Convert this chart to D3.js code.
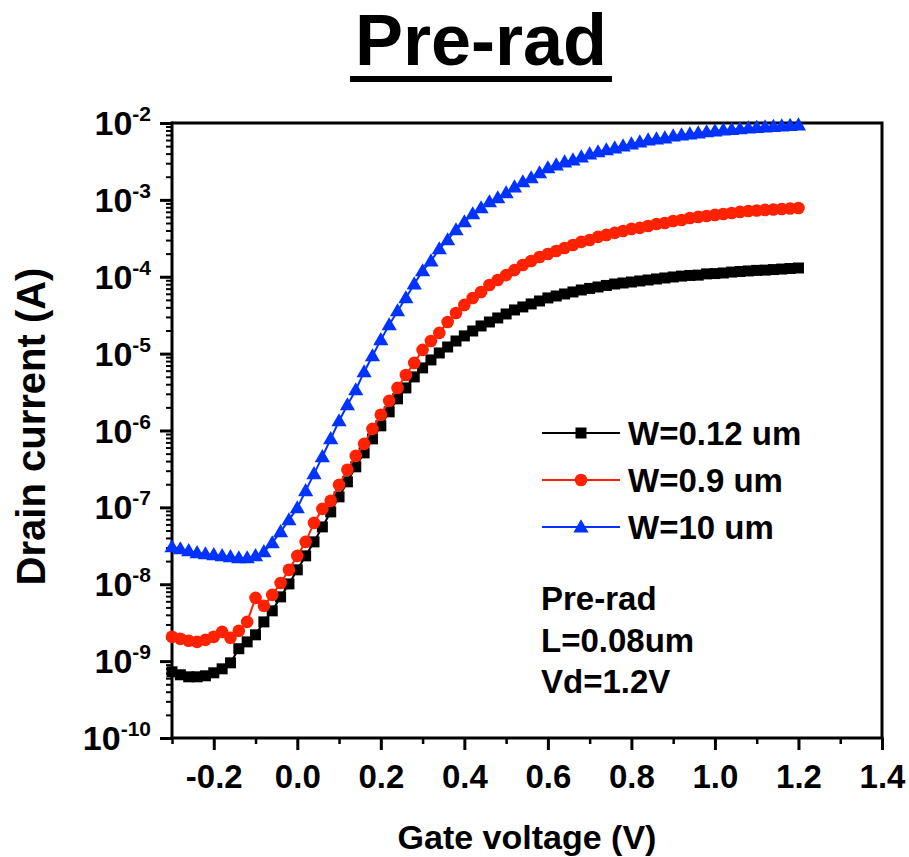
<!DOCTYPE html>
<html>
<head>
<meta charset="utf-8">
<script src="https://cdn.jsdelivr.net/npm/d3@7"></script>
<style>
  html, body { margin: 0; padding: 0; background: #fff; }
  svg { display: block; }
  text { font-family: "Liberation Sans", Arial, "DejaVu Sans", sans-serif; font-weight: bold; fill: #000; }
</style>
</head>
<body>
<svg id="chart" width="909" height="857"></svg>
<script>
// Gate voltage sweep (V)
const gateVoltage = [-0.30,-0.28,-0.26,-0.24,-0.22,-0.20,-0.18,-0.16,-0.14,-0.12,-0.10,-0.08,-0.06,-0.04,-0.02,
  0.00,0.02,0.04,0.06,0.08,0.10,0.12,0.14,0.16,0.18,0.20,0.22,0.24,0.26,0.28,0.30,0.32,0.34,0.36,0.38,0.40,
  0.42,0.44,0.46,0.48,0.50,0.52,0.54,0.56,0.58,0.60,0.62,0.64,0.66,0.68,0.70,0.72,0.74,0.76,0.78,0.80,
  0.82,0.84,0.86,0.88,0.90,0.92,0.94,0.96,0.98,1.00,1.02,1.04,1.06,1.08,1.10,1.12,1.14,1.16,1.18,1.20];

// Drain current (A), W = 0.12 um
const idW012 = [7.26e-10,6.64e-10,6.25e-10,6.25e-10,6.44e-10,7.05e-10,7.94e-10,9.5e-10,1.45e-9,1.78e-9,2.20e-9,3.24e-9,4.51e-9,6.85e-9,1.01e-8,1.54e-8,
  2.34e-8,3.56e-8,5.57e-8,8.73e-8,1.37e-7,2.15e-7,3.37e-7,5.12e-7,7.78e-7,1.15e-6,1.75e-6,2.58e-6,3.58e-6,4.98e-6,6.52e-6,8.28e-6,1.02e-5,1.22e-5,1.46e-5,1.70e-5,1.97e-5,2.29e-5,2.58e-5,2.91e-5,3.28e-5,3.70e-5,4.05e-5,4.43e-5,4.84e-5,5.30e-5,
  5.62e-5,5.97e-5,6.34e-5,6.73e-5,7.05e-5,7.36e-5,7.71e-5,8.05e-5,8.30e-5,8.55e-5,8.81e-5,9.08e-5,9.36e-5,9.64e-5,9.93e-5,1.02e-4,1.04e-4,1.05e-4,1.09e-4,1.10e-4,1.12e-4,1.15e-4,1.17e-4,1.19e-4,1.21e-4,1.22e-4,1.24e-4,1.26e-4,1.28e-4,1.30e-4];

// Drain current (A), W = 0.9 um
const idW09 = [2.07e-9,1.95e-9,1.84e-9,1.78e-9,1.89e-9,2.07e-9,2.40e-9,2.01e-9,2.48e-9,3.24e-9,6.65e-9,5.24e-9,7.28e-9,1.04e-8,1.54e-8,2.34e-8,
  3.56e-8,6.28e-8,9.55e-8,1.22e-7,1.96e-7,3.08e-7,4.68e-7,6.70e-7,1.05e-6,1.60e-6,2.43e-6,3.58e-6,5.28e-6,7.57e-6,1.12e-5,
  1.46e-5,1.86e-5,2.58e-5,3.38e-5,4.30e-5,5.30e-5,6.34e-5,7.82e-5,9.08e-5,1.05e-4,1.22e-4,1.42e-4,1.60e-4,1.81e-4,1.98e-4,
  2.16e-4,2.37e-4,2.59e-4,2.84e-4,3.01e-4,3.30e-4,3.50e-4,3.72e-4,3.94e-4,4.19e-4,4.32e-4,4.58e-4,4.86e-4,5.01e-4,5.32e-4,5.48e-4,5.82e-4,6.00e-4,6.18e-4,6.37e-4,6.56e-4,6.76e-4,6.97e-4,7.18e-4,7.28e-4,7.40e-4,7.50e-4,7.62e-4,7.73e-4,7.85e-4];

// Drain current (A), W = 10 um
const idW10 = [3.06e-8,2.88e-8,2.72e-8,2.56e-8,2.48e-8,2.41e-8,2.34e-8,2.27e-8,2.20e-8,2.20e-8,2.34e-8,2.64e-8,3.45e-8,4.80e-8,6.87e-8,
  9.84e-8,1.64e-7,2.73e-7,4.54e-7,7.78e-7,1.33e-6,2.15e-6,3.37e-6,5.78e-6,9.33e-6,1.51e-5,2.36e-5,3.59e-5,5.30e-5,8.05e-5,1.19e-4,1.60e-4,2.30e-4,3.01e-4,4.06e-4,5.16e-4,6.56e-4,7.85e-4,9.39e-4,1.06e-3,1.23e-3,1.47e-3,1.71e-3,1.93e-3,2.24e-3,2.60e-3,
  2.84e-3,3.11e-3,3.30e-3,3.61e-3,3.95e-3,4.20e-3,4.46e-3,4.73e-3,5.02e-3,5.33e-3,5.66e-3,6.01e-3,6.19e-3,6.38e-3,6.77e-3,6.98e-3,7.19e-3,7.41e-3,7.64e-3,7.87e-3,8.11e-3,8.23e-3,8.36e-3,8.61e-3,8.74e-3,8.87e-3,9.00e-3,9.14e-3,9.28e-3,9.42e-3];

const seriesNames = ["W=0.12 um", "W=0.9 um", "W=10 um"];
const seriesColors = ["#000000", "#ff2200", "#0033ff"];
const seriesSymbols = ["square", "circle", "triangle"];

const xMajorTicks = [-0.2, 0.0, 0.2, 0.4, 0.6, 0.8, 1.0, 1.2, 1.4];
const xMinorTicks = [-0.3, -0.1, 0.1, 0.3, 0.5, 0.7, 0.9, 1.1, 1.3];
const yDecadeExponents = [-10, -9, -8, -7, -6, -5, -4, -3, -2];

const notes = ["Pre-rad", "L=0.08um", "Vd=1.2V"];
const titleText = "Pre-rad";

// ---- layout ----
const plot = { left: 172, right: 882, top: 123, bottom: 738 };
const svg = d3.select("#chart");

const x = d3.scaleLinear().domain([-0.3, 1.4]).range([plot.left, plot.right]);
const y = d3.scaleLog().domain([1e-10, 1e-2]).range([plot.bottom, plot.top]);

// title with underline
svg.append("text")
  .attr("x", 481).attr("y", 65)
  .attr("text-anchor", "middle")
  .style("font-size", "72px")
  .text(titleText);
svg.append("rect").attr("x", 350).attr("y", 76).attr("width", 262).attr("height", 6).attr("fill", "#000");

// frame: top and right edges
svg.append("path")
  .attr("d", `M${plot.left},${plot.top}H${plot.right}V${plot.bottom}`)
  .attr("fill", "none").attr("stroke", "#000").attr("stroke-width", 3);

// x axis: major + minor ticks
const xAxisMajor = d3.axisBottom(x).tickValues(xMajorTicks).tickSize(12).tickPadding(14)
  .tickFormat(d => d.toFixed(1));
const gxMajor = svg.append("g").attr("transform", `translate(0,${plot.bottom})`).call(xAxisMajor);
gxMajor.select(".domain").attr("stroke-width", 3).attr("d", `M${plot.left - 1.5},0H${plot.right + 1.5}`);
gxMajor.selectAll(".tick line").attr("stroke-width", 3);
gxMajor.selectAll(".tick text")
  .style("font-size", "33px").style("font-family", '"Liberation Sans", Arial, sans-serif').style("font-weight", "bold")
  .attr("dy", null).attr("y", 50);

const xAxisMinor = d3.axisBottom(x).tickValues(xMinorTicks).tickSize(6).tickFormat("");
const gxMinor = svg.append("g").attr("transform", `translate(0,${plot.bottom})`).call(xAxisMinor);
gxMinor.select(".domain").remove();
gxMinor.selectAll(".tick line").attr("stroke-width", 2.5);

// y axis: decades + log minor ticks
const yMinorTicks = [];
yDecadeExponents.slice(0, -1).forEach(e => {
  for (let m = 2; m <= 9; m++) yMinorTicks.push(m * Math.pow(10, e));
});
const yAxisMinor = d3.axisLeft(y).tickValues(yMinorTicks).tickSize(6).tickFormat("");
const gyMinor = svg.append("g").attr("transform", `translate(${plot.left},0)`).call(yAxisMinor);
gyMinor.select(".domain").remove();
gyMinor.selectAll(".tick line").attr("stroke-width", 2);

const yAxisMajor = d3.axisLeft(y).tickValues(yDecadeExponents.map(e => Math.pow(10, e))).tickSize(12).tickFormat("");
const gyMajor = svg.append("g").attr("transform", `translate(${plot.left},0)`).call(yAxisMajor);
gyMajor.select(".domain").attr("stroke-width", 3).attr("d", `M0,${plot.bottom + 1.5}V${plot.top - 1.5}`);
gyMajor.selectAll(".tick line").attr("stroke-width", 3);

// decade labels as 10 with superscript exponent
const yLabels = svg.append("g");
yDecadeExponents.forEach(e => {
  const t = yLabels.append("text")
    .attr("x", 151).attr("y", y(Math.pow(10, e)) + 12)
    .attr("text-anchor", "end");
  t.append("tspan").style("font-size", "34px").text("10");
  t.append("tspan").attr("dy", -14).style("font-size", "21px").text(String(e));
});

// axis titles
svg.append("text")
  .attr("x", (plot.left + plot.right) / 2).attr("y", 849)
  .attr("text-anchor", "middle").style("font-size", "34px")
  .text("Gate voltage (V)");
svg.append("text")
  .attr("transform", `translate(45,${(plot.top + plot.bottom) / 2 - 4}) rotate(-90)`)
  .attr("text-anchor", "middle").style("font-size", "40px")
  .text("Drain current (A)");

// series
const seriesData = [idW012, idW09, idW10];
const symbolTypes = { square: d3.symbolSquare, circle: d3.symbolCircle, triangle: d3.symbolTriangle };
const symbolSizes = { square: 121, circle: 125, triangle: 100 };
const line = d3.line().x(d => x(d[0])).y(d => y(d[1]));

function drawMarker(g, kind, color, cx, cy) {
  g.append("path")
    .attr("d", d3.symbol().type(symbolTypes[kind]).size(symbolSizes[kind])())
    .attr("transform", `translate(${cx},${cy})` + (kind === "triangle" ? " translate(0,1)" : ""))
    .attr("fill", color);
}

seriesData.forEach((vals, i) => {
  const pts = gateVoltage.map((v, j) => [v, vals[j]]);
  const g = svg.append("g");
  g.append("path").attr("d", line(pts)).attr("fill", "none")
    .attr("stroke", seriesColors[i]).attr("stroke-width", 2);
  pts.forEach(p => drawMarker(g, seriesSymbols[i], seriesColors[i], x(p[0]), y(p[1])));
});

// legend
const legendRows = [433, 480, 527];
seriesNames.forEach((name, i) => {
  const g = svg.append("g");
  const ly = legendRows[i];
  g.append("line").attr("x1", 542).attr("x2", 620).attr("y1", ly).attr("y2", ly)
    .attr("stroke", seriesColors[i]).attr("stroke-width", 2);
  drawMarker(g, seriesSymbols[i], seriesColors[i], 581, ly);
  g.append("text").attr("x", 628).attr("y", ly + 12).style("font-size", "33px").text(name);
});

// condition notes
const noteRows = [610, 652, 693];
notes.forEach((n, i) => {
  svg.append("text").attr("x", 541).attr("y", noteRows[i]).style("font-size", "33px").text(n);
});
</script>
</body>
</html>
